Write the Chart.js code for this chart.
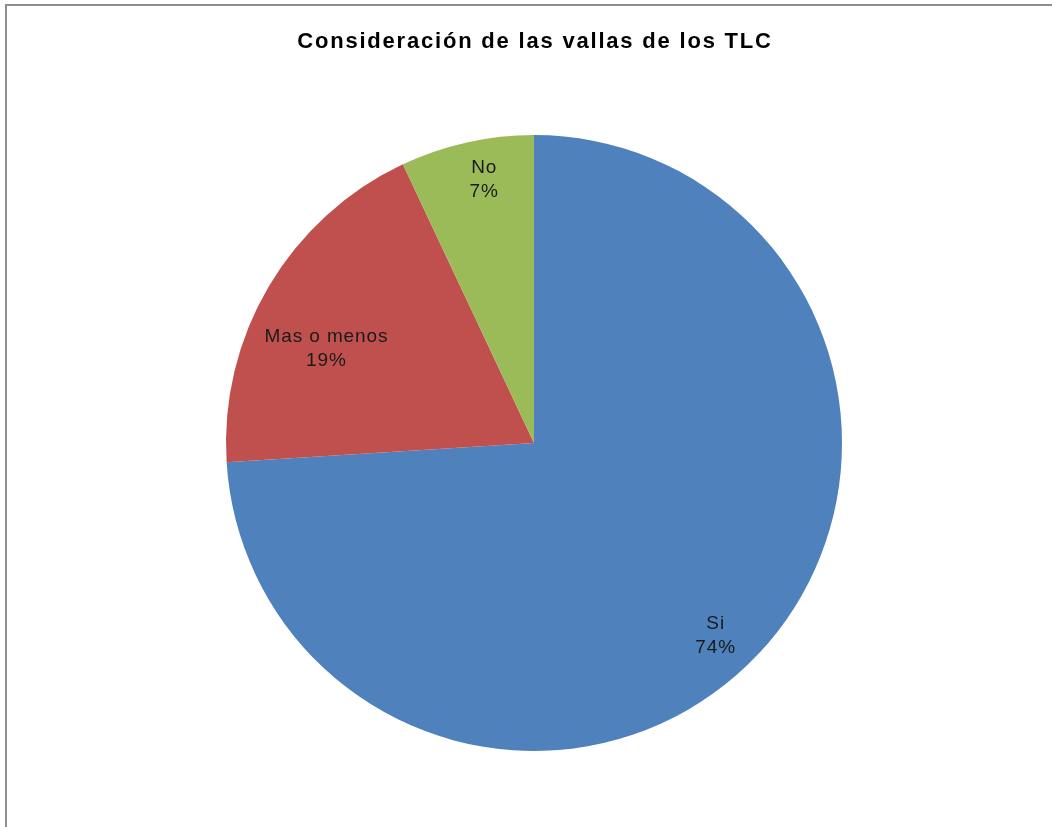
<!DOCTYPE html>
<html>
<head>
<meta charset="utf-8">
<script src="https://cdn.jsdelivr.net/npm/chart.js@4/dist/chart.umd.min.js"></script>
<style>
    html, body { margin: 0; padding: 0; background: #fff; }
    body { width: 1052px; height: 827px; position: relative; overflow: hidden; }
    .chart-frame {
        position: absolute; left: 5px; top: 4px; width: 1100px; height: 900px;
        border-top: 2px solid #8e8e8e; border-left: 2px solid #8e8e8e;
    }
    #vallasPie { position: absolute; left: 0; top: 0; }
</style>
</head>
<body>
<div class="chart-frame"></div>
<canvas id="vallasPie" width="1052" height="827"></canvas>
<script>
// Encuesta: consideración de las vallas de los TLC
const chartTitle = 'Consideración de las vallas de los TLC';
const pieLabels = ['Si', 'Mas o menos', 'No'];
const pieValues = [74, 19, 7];
const pieColors = ['#4F81BD', '#C0504D', '#9BBB59'];

// Where each label sits inside its slice: angle shift (deg) and fraction of radius
const labelPlacement = [
    { shift: 3.5, frac: 0.86 },
    { shift: -6.2, frac: 0.74 },
    { shift: 1.9, frac: 0.87 }
];

// Title drawn by hand so the letter spacing can be widened a bit
const pieTitlePlugin = {
    id: 'pieTitlePlugin',
    afterDraw(chart) {
        const ctx = chart.ctx;
        ctx.save();
        ctx.font = 'bold 22px "Liberation Sans", Arial, sans-serif';
        ctx.letterSpacing = '1.8px';
        ctx.fillStyle = '#000';
        ctx.textAlign = 'center';
        ctx.textBaseline = 'middle';
        const mid = (chart.chartArea.left + chart.chartArea.right) / 2;
        ctx.fillText(chartTitle, mid + 1, 42);
        ctx.restore();
    }
};

const pieLabelPlugin = {
    id: 'pieLabelPlugin',
    afterDatasetsDraw(chart) {
        const ctx = chart.ctx;
        const meta = chart.getDatasetMeta(0);
        const total = pieValues.reduce((a, b) => a + b, 0);
        ctx.save();
        ctx.font = '19px "Liberation Sans", Arial, sans-serif';
        ctx.letterSpacing = '0.9px';
        ctx.fillStyle = '#1a1a1a';
        ctx.textAlign = 'center';
        ctx.textBaseline = 'middle';
        meta.data.forEach((arc, i) => {
            const p = arc.getProps(['x', 'y', 'startAngle', 'endAngle', 'outerRadius'], true);
            const place = labelPlacement[i];
            const mid = (p.startAngle + p.endAngle) / 2 + place.shift * Math.PI / 180;
            const r = p.outerRadius * place.frac;
            const cx = p.x + Math.cos(mid) * r;
            const cy = p.y + Math.sin(mid) * r;
            const pct = Math.round(pieValues[i] / total * 100) + '%';
            ctx.fillText(pieLabels[i], cx, cy - 12);
            ctx.fillText(pct, cx, cy + 12);
        });
        ctx.restore();
    }
};

new Chart(document.getElementById('vallasPie').getContext('2d'), {
    type: 'pie',
    data: {
        labels: pieLabels,
        datasets: [{
            data: pieValues,
            backgroundColor: pieColors,
            borderWidth: 0
        }]
    },
    options: {
        responsive: false,
        animation: false,
        layout: { padding: { top: 135, left: 226, right: 210, bottom: 76 } },
        plugins: {
            legend: { display: false },
            tooltip: { enabled: false },
            title: { display: false }
        }
    },
    plugins: [pieLabelPlugin, pieTitlePlugin]
});
</script>
</body>
</html>
